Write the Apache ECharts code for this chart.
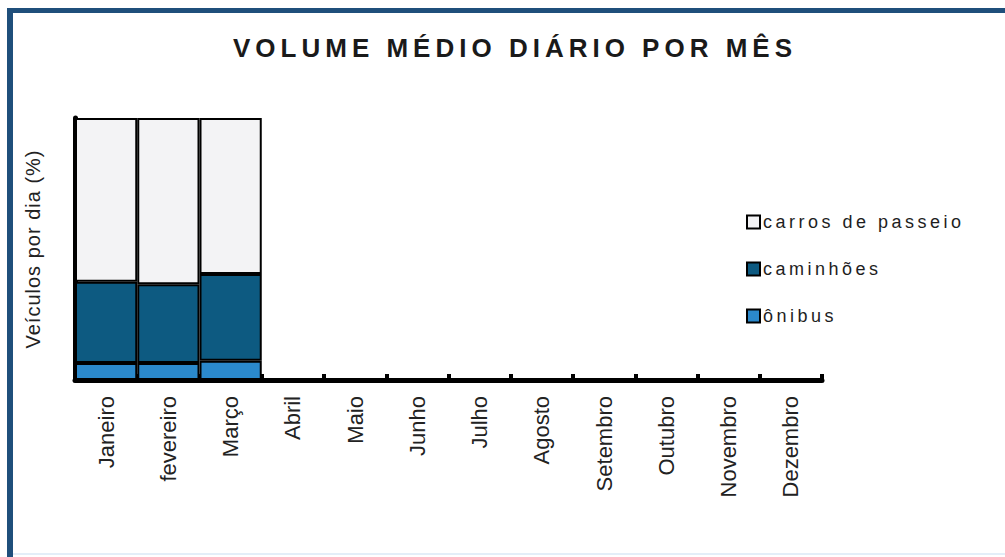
<!DOCTYPE html>
<html>
<head>
<meta charset="utf-8">
<script src="https://cdn.jsdelivr.net/npm/echarts@6/dist/echarts.min.js"></script>
<style>
  html, body { margin: 0; padding: 0; background: #ffffff; }
  #chart { width: 1005px; height: 557px; }
</style>
</head>
<body>
<div id="chart"></div>
<script>
// Chart text
const TITLE = 'VOLUME MÉDIO DIÁRIO POR MÊS';
const Y_NAME = 'Veículos por dia (%)';

// Categories
const months = ['Janeiro', 'fevereiro', 'Março', 'Abril', 'Maio', 'Junho',
                'Julho', 'Agosto', 'Setembro', 'Outubro', 'Novembro', 'Dezembro'];

// Share of daily traffic per vehicle class (%), only the first quarter is filled
const onibus    = [6.5, 6.5, 7.3, null, null, null, null, null, null, null, null, null];
const caminhoes = [31.0, 30.0, 33.2, null, null, null, null, null, null, null, null, null];
const carros    = [62.5, 63.5, 59.5, null, null, null, null, null, null, null, null, null];

const NAME_ONIBUS = 'ônibus';
const NAME_CAMINHOES = 'caminhões';
const NAME_CARROS = 'carros de passeio';

const FONT = "'Liberation Sans', Arial, sans-serif";

const chart = echarts.init(document.getElementById('chart'), null, { renderer: 'svg' });

function barSeries(name, data, color) {
  return {
    name: name,
    type: 'bar',
    stack: 'total',
    data: data,
    barCategoryGap: '0%',
    itemStyle: { color: color, borderColor: '#000000', borderWidth: 2 },
    emphasis: { disabled: true }
  };
}

chart.setOption({
  animation: false,
  backgroundColor: '#ffffff',
  title: {
    text: TITLE,
    left: 228,
    top: 30,
    textStyle: { fontFamily: FONT, fontSize: 26, fontWeight: 'bold', color: '#1a1a1a' }
  },
  legend: {
    orient: 'vertical',
    left: 741,
    top: 207,
    itemGap: 27,
    itemWidth: 13,
    itemHeight: 13,
    icon: 'rect',
    data: [NAME_CARROS, NAME_CAMINHOES, NAME_ONIBUS],
    textStyle: { fontFamily: FONT, fontSize: 18, color: '#1e1e1e', lineHeight: 20, padding: [0, 0, 0, -2] }
  },
  grid: { left: 75, right: 183, top: 118, bottom: 177 },
  xAxis: {
    type: 'category',
    data: months,
    boundaryGap: true,
    axisLine: { show: true, lineStyle: { color: '#000000', width: 5 } },
    axisTick: { show: true, inside: true, length: 6, lineStyle: { color: '#000000', width: 4 } },
    axisLabel: {
      rotate: 90,
      margin: 16,
      interval: 0,
      fontFamily: FONT,
      fontSize: 22,
      color: '#222222'
    },
    splitLine: { show: false }
  },
  yAxis: {
    type: 'value',
    min: 0,
    max: 100,
    name: Y_NAME,
    nameLocation: 'middle',
    nameGap: 32,
    nameTextStyle: { fontFamily: FONT, fontSize: 20, color: '#222222' },
    axisLine: { show: true, lineStyle: { color: '#000000', width: 5 } },
    axisTick: { show: false },
    axisLabel: { show: false },
    splitLine: { show: false }
  },
  graphic: [
    // frame along the top and left edges
    { type: 'line', shape: { x1: 7, y1: 10.5, x2: 1005, y2: 10.5 },
      style: { stroke: '#1f4f7b', lineWidth: 5 }, silent: true },
    { type: 'line', shape: { x1: 10, y1: 8, x2: 10, y2: 557 },
      style: { stroke: '#1f4f7b', lineWidth: 6 }, silent: true },
    { type: 'line', shape: { x1: 13, y1: 554, x2: 1005, y2: 554 },
      style: { stroke: '#e3eef8', lineWidth: 2 }, silent: true }
  ],
  series: [
    barSeries(NAME_ONIBUS, onibus, '#2b89cc'),
    barSeries(NAME_CAMINHOES, caminhoes, '#0d5a81'),
    barSeries(NAME_CARROS, carros, '#f3f3f5')
  ]
});

// Spaced-out lettering for the title, legend and axis name
const spacing = {};
spacing[TITLE] = '5px';
spacing[NAME_CARROS] = '3.5px';
spacing[NAME_CAMINHOES] = '3.5px';
spacing[NAME_ONIBUS] = '3.5px';
spacing[Y_NAME] = '1px';

function applySpacing() {
  document.querySelectorAll('#chart svg text').forEach(function (t) {
    const s = spacing[t.textContent.trim()];
    if (s) t.style.letterSpacing = s;
  });
}
applySpacing();
chart.on('finished', applySpacing);
</script>
</body>
</html>
